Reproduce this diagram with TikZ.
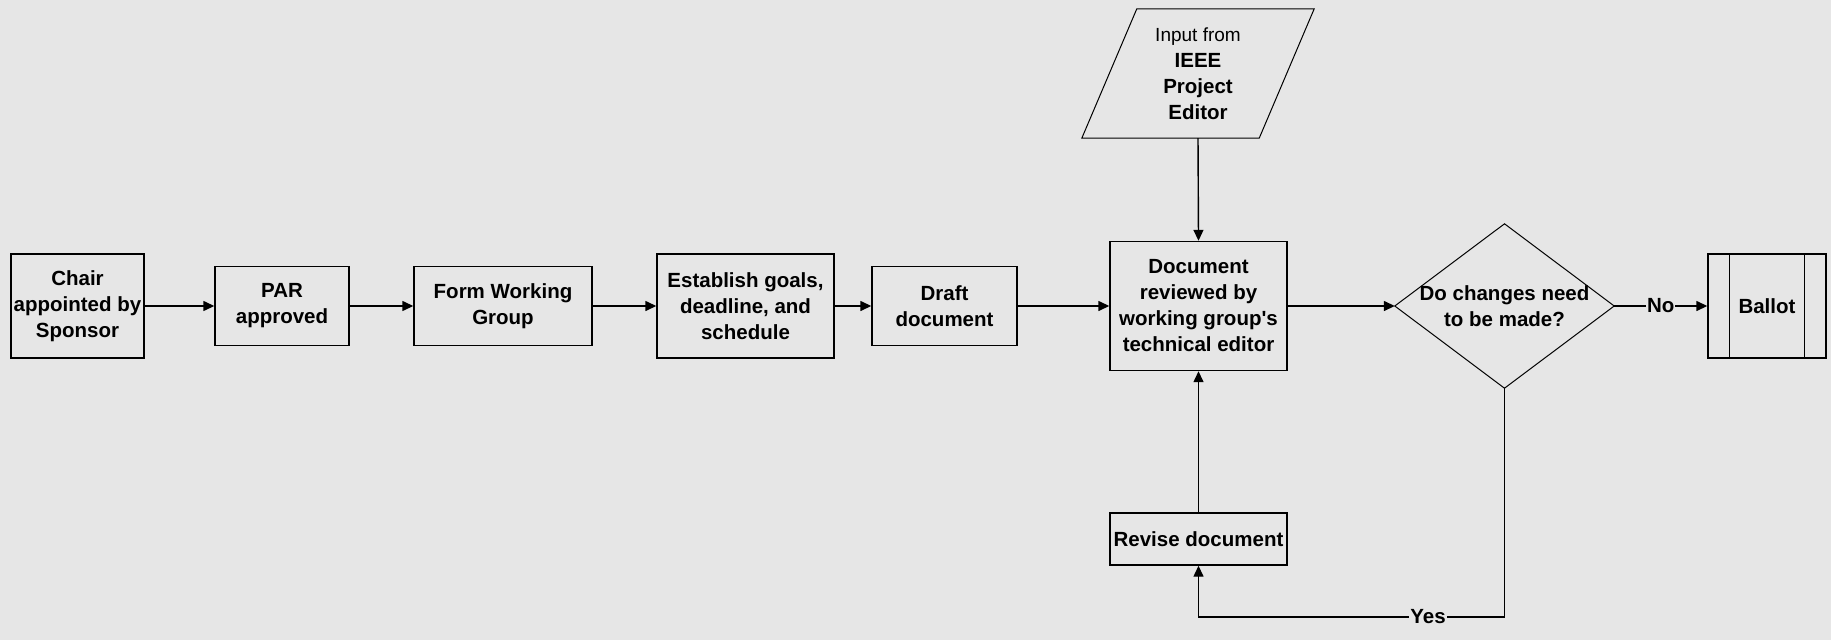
\documentclass[tikz,border=0pt]{standalone}
\usepackage{fontspec}
\setmainfont{Liberation Sans}
\usetikzlibrary{arrows.meta}
\definecolor{bg}{RGB}{230,230,230}
\begin{document}
\begin{tikzpicture}[x=1pt,y=-1pt,
  txt/.style={font=\bfseries\fontsize{20.5}{26}\selectfont},
  box/.style={draw, line width=1.4pt, inner sep=0pt, align=center, txt},
  thin/.style={line width=1pt},
  arr/.style={line width=1.4pt, -{Triangle[length=11pt,width=10pt]}},
  lbl/.style={fill=bg, inner sep=1pt, txt}]
\fill[bg] (0,0) rectangle (1831,640);
\useasboundingbox (0,0) rectangle (1831,640);

\node[box, minimum width=133pt, minimum height=104pt] (chair) at (77.5,306) {Chair\\appointed by\\Sponsor};
\node[box, minimum width=134pt, minimum height=79pt] (par) at (282,306) {PAR\\approved};
\node[box, minimum width=178pt, minimum height=79pt] (fwg) at (503,306) {Form Working\\Group};
\node[box, minimum width=177pt, minimum height=104pt] (est) at (745.5,306) {Establish goals,\\deadline, and\\schedule};
\node[box, minimum width=145pt, minimum height=79pt] (draft) at (944.5,306) {Draft\\document};
\node[box, minimum width=177pt, minimum height=129pt] (doc) at (1198.5,306) {Document\\reviewed by\\working group\textquotesingle s\\technical editor};
\node[box, minimum width=177pt, minimum height=52pt] (rev) at (1198.5,539) {Revise document};

% input parallelogram
\node[inner sep=0pt, minimum width=232pt, minimum height=129pt, align=center, txt] (inp) at (1198,73.5)
  {{\mdseries\fontsize{19}{26}\selectfont Input from}\\IEEE\\Project\\Editor};
\draw[thin] ([xshift=55pt]inp.north west) -- (inp.north east) -- ([xshift=-55pt]inp.south east) -- (inp.south west) -- cycle;

% decision diamond
\node[inner sep=0pt, minimum width=219pt, minimum height=164pt, align=center, txt] (dec) at (1504.5,306) {Do changes need\\to be made?};
\draw[thin] (dec.north) -- (dec.east) -- (dec.south) -- (dec.west) -- cycle;

% ballot
\node[box, minimum width=118pt, minimum height=104pt] (ballot) at (1767,306) {Ballot};
\draw[line width=1.4pt] ([xshift=22pt]ballot.north west) -- ([xshift=22pt]ballot.south west);
\draw[line width=1.4pt] ([xshift=-22pt]ballot.north east) -- ([xshift=-22pt]ballot.south east);

% connectors
\draw[arr] (chair.east) -- (par.west);
\draw[arr] (par.east) -- (fwg.west);
\draw[arr] (fwg.east) -- (est.west);
\draw[arr] (est.east) -- (draft.west);
\draw[arr] (draft.east) -- (doc.west);
\draw[arr] (inp.south) -- (doc.north);
\draw[arr] (doc.east) -- (dec.west);
\draw[arr] (dec.east) -- node[lbl]{No} (ballot.west);
\draw[arr] (rev.north) -- (doc.south);
\coordinate (loop) at (1504.5,617);
\draw[arr] (dec.south) -- (loop) -- node[lbl, pos=0.25]{Yes} (loop -| rev.south) -- (rev.south);
\end{tikzpicture}
\end{document}
